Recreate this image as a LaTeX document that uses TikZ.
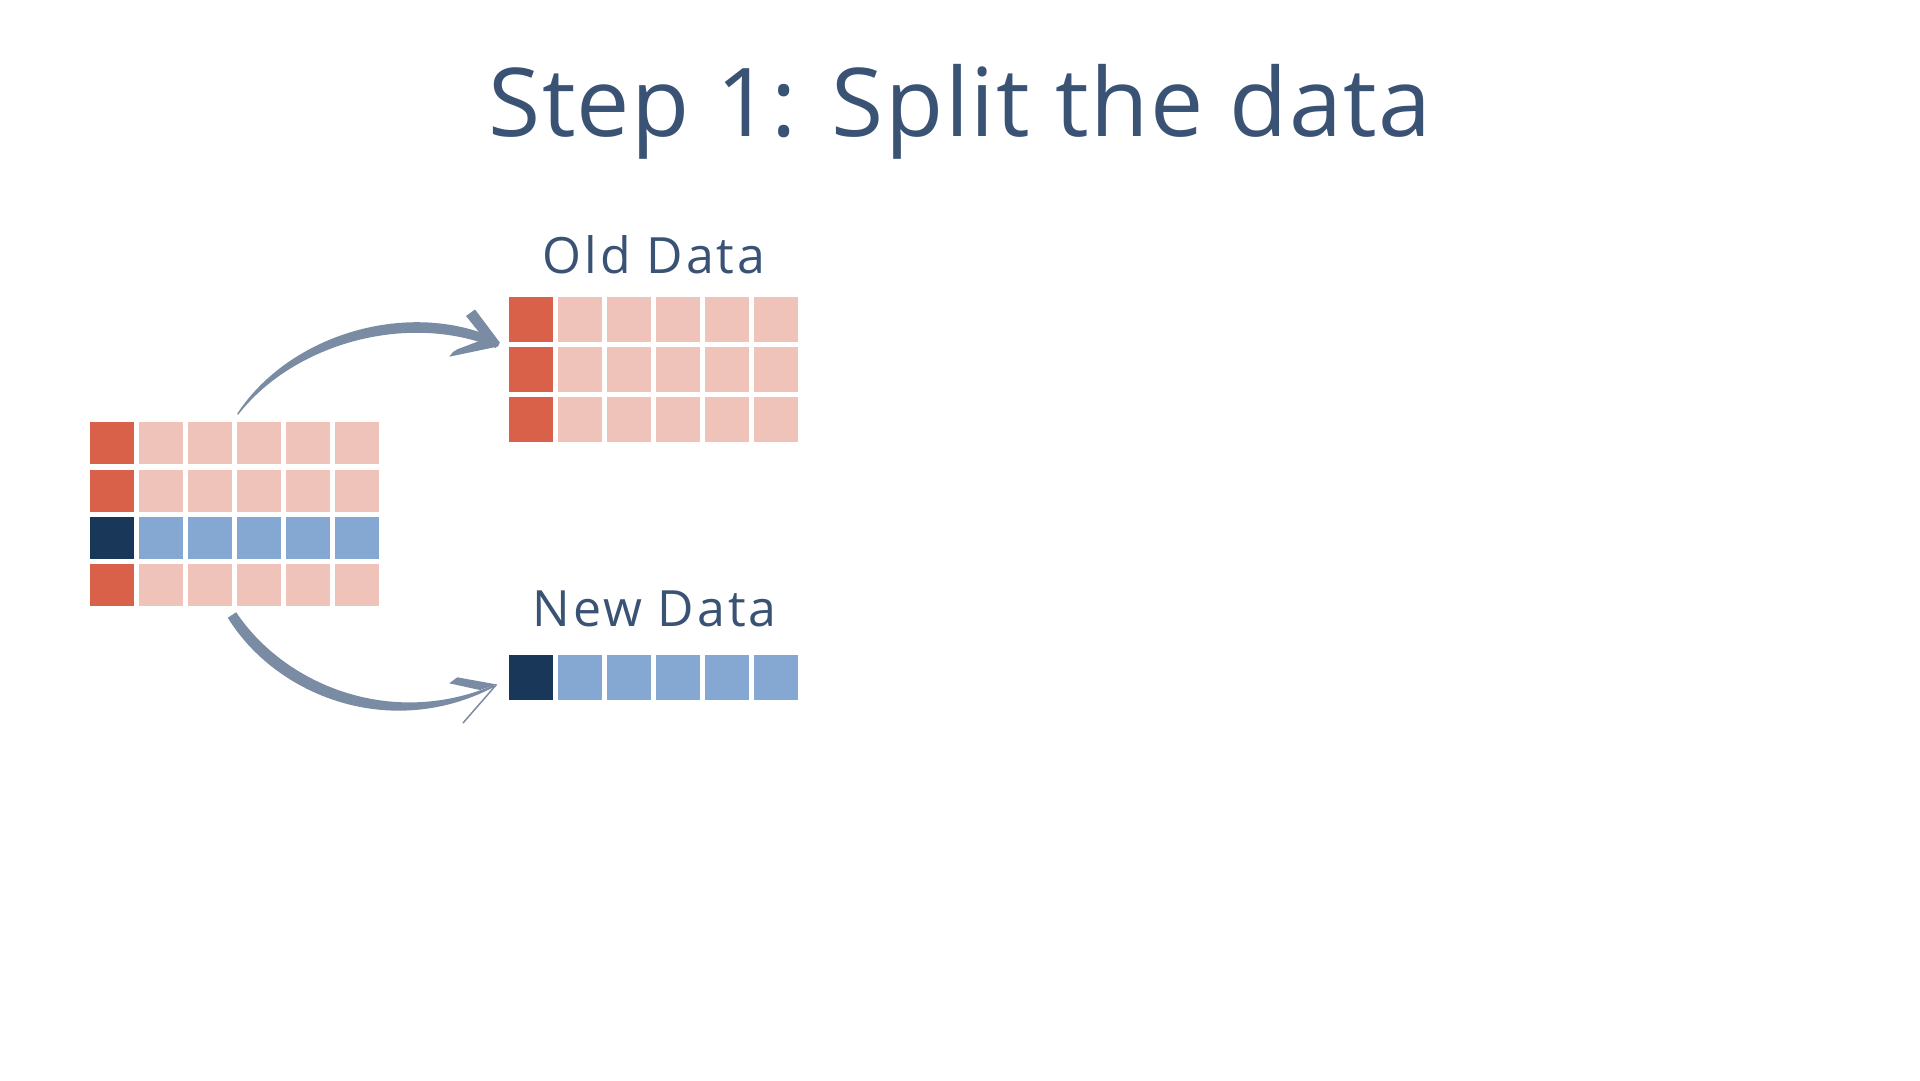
\documentclass[tikz,border=0pt]{standalone}
\usepackage{fontspec}
\setmainfont{Open Sans}
\newfontfamily\titlefont[LetterSpace=1.5]{Open Sans}
\newfontfamily\labelfont[LetterSpace=6]{Open Sans}
\definecolor{txt}{HTML}{3A5375}
\definecolor{cred}{HTML}{D9614A}
\definecolor{cpink}{HTML}{EFC2BA}
\definecolor{cnavy}{HTML}{183759}
\definecolor{cblue}{HTML}{84A8D1}
\definecolor{carrow}{HTML}{7A8BA4}
\tikzset{
  lcell/.style={rectangle, inner sep=0pt, outer sep=0pt, anchor=north west, minimum width=44.3pt, minimum height=42pt},
  rcell/.style={rectangle, inner sep=0pt, outer sep=0pt, anchor=north west, minimum width=44pt, minimum height=45pt},
  titletext/.style={text=txt, anchor=base, inner sep=0pt, font=\titlefont\fontsize{95}{95}\selectfont},
  labeltext/.style={text=txt, anchor=base, inner sep=0pt, font=\labelfont\fontsize{50}{50}\selectfont},
  arrowfill/.style={fill=carrow, draw=none}
}
\begin{document}
\begin{tikzpicture}[x=1pt,y=-1pt]
\useasboundingbox (0,0) rectangle (1920,1080);
\fill[white] (0,0) rectangle (1920,1080);

% title
\node[titletext] (title) at (960,136) {Step 1: Split the data};

% left grid
\foreach \r/\y/\ca/\cb in {1/422.3/cred/cpink, 2/469.7/cred/cpink, 3/517/cnavy/cblue, 4/564/cred/cpink} {
  \node[lcell, fill=\ca] (L\r-1) at (90,\y) {};
  \foreach \c in {2,...,6} {
    \node[lcell, fill=\cb] (L\r-\c) at ({90+49*(\c-1)},\y) {};
  }
}

% old data grid
\node[labeltext] (oldlabel) at (654,273) {Old Data};
\foreach \r/\y in {1/297.3, 2/347, 3/397} {
  \node[rcell, fill=cred] (O\r-1) at (509.3,\y) {};
  \foreach \c in {2,...,6} {
    \node[rcell, fill=cpink] (O\r-\c) at ({509.3+49*(\c-1)},\y) {};
  }
}

% new data grid
\node[labeltext] (newlabel) at (654.5,626) {New Data};
\node[rcell, fill=cnavy] (N1-1) at (509.3,655) {};
\foreach \c in {2,...,6} {
  \node[rcell, fill=cblue] (N1-\c) at ({509.3+49*(\c-1)},655) {};
}

% arrow coordinates
\coordinate (us) at (237,414);
\coordinate (ue) at (497,343);
\coordinate (ls) at (232,615);
\coordinate (le) at (494,685);

% upper arrow: tapered shaft (thin at start)
\fill[arrowfill] (us) .. controls (290,333) and (410,299) .. (497,339)
   -- (496,348) .. controls (410,312) and (295,342) .. (238.2,414.6) -- cycle;
% upper arrowhead
\fill[arrowfill] (475,309.5) -- (499.8,342.5) -- (498,346.5) -- (449.3,356.7)
   -- (453,352) -- (457.3,349.3) -- (484.5,339) -- (466,316) -- cycle;

% lower arrow: tapered shaft (thick at start)
\fill[arrowfill] (236.2,612.3) .. controls (284,684) and (390,729) .. (le)
   -- (494,687) .. controls (390,741) and (276,696) .. (227.8,617.7) -- cycle;
% lower arrowhead
\fill[arrowfill] (449.3,683.3) -- (457.3,677.3) -- (497,684.5) -- (480,690) -- cycle;
\draw[carrow, line width=1.5pt] (463,723) -- (496.5,684.5);
\end{tikzpicture}
\end{document}
